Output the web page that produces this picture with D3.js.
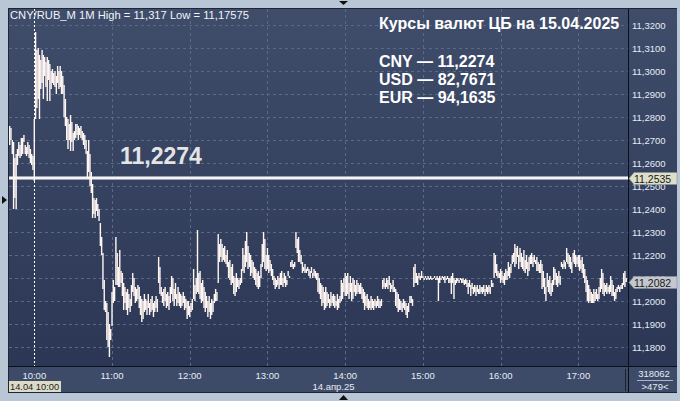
<!DOCTYPE html>
<meta charset="utf-8">
<title>CNY/RUB_M 1M</title>
<style>
body {
  margin: 0;
  background: #b9c6d6;
}
svg {
  display: block;
  font-family: "Liberation Sans", Arial, sans-serif;
}
.grid line {
  stroke: #5b6987;
  stroke-dasharray: 3,3;
}
.tick-label {
  fill: #e6ecf6;
  font-size: 9.5px;
}
</style>
<body>
<script src="https://cdn.jsdelivr.net/npm/d3@7"></script>
<script>

// minutes relative to 10:00 of the first visible 1M bar
var firstMinute = -19;

var highs = [
  11.2760, 11.2750, 11.2700, 11.2690, 11.2620, 11.2640, 11.2660, 11.2690, 11.2680, 11.2710,
  11.2710, 11.2720, 11.2680, 11.2670, 11.2690, 11.2680, 11.2660, 11.2640, 11.2630,
  11.2790,
  11.3170, 11.3090, 11.3100, 11.3070, 11.3050, 11.3090, 11.3070, 11.3060, 11.3040, 11.3060,
  11.3050, 11.3030, 11.3000, 11.3010, 11.2990, 11.3000, 11.2980, 11.3020, 11.3000, 11.3020,
  11.3000, 11.2980, 11.2940, 11.2880, 11.2800, 11.2790, 11.2770, 11.2810, 11.2780, 11.2730,
  11.2740, 11.2770, 11.2770, 11.2760, 11.2750, 11.2760, 11.2740, 11.2730, 11.2720, 11.2700,
  11.2650, 11.2700, 11.2640, 11.2560, 11.2510, 11.2450, 11.2440, 11.2450, 11.2420, 11.2400,
  11.2340, 11.2280, 11.2210, 11.2090, 11.2000, 11.1990, 11.1950, 11.1900, 11.1880, 11.2040,
  11.2090, 11.2060, 11.2280, 11.2210, 11.2150, 11.2220, 11.2130, 11.2120, 11.2080, 11.2060,
  11.2040, 11.2050, 11.2030, 11.2010, 11.2070, 11.2120, 11.2100, 11.2060, 11.2050, 11.2070,
  11.2060, 11.2020, 11.2010, 11.2000, 11.2030, 11.2010, 11.2000, 11.2030, 11.1990, 11.2010,
  11.2020, 11.1990, 11.2000, 11.2020, 11.2010, 11.2190, 11.2150, 11.2060, 11.2040, 11.2050,
  11.2060, 11.2030, 11.2040, 11.2020, 11.2060, 11.2110, 11.2100, 11.2050, 11.2080, 11.2030,
  11.2060, 11.2040, 11.2030, 11.2020, 11.2040, 11.2020, 11.2010, 11.2000, 11.2000, 11.1980,
  11.1990, 11.2010, 11.2140, 11.2070, 11.2100, 11.2310, 11.2120, 11.2130, 11.2080, 11.2090,
  11.2060, 11.2040, 11.2020, 11.2000, 11.2020, 11.1990, 11.2010, 11.2000, 11.2030, 11.2050,
  11.2040, 11.2290, 11.2250, 11.2270, 11.2250, 11.2230, 11.2240, 11.2200, 11.2220, 11.2170,
  11.2180, 11.2150, 11.2160, 11.2110, 11.2100, 11.2120, 11.2100, 11.2090, 11.2100, 11.2140,
  11.2230, 11.2200, 11.2260, 11.2300, 11.2240, 11.2210, 11.2200, 11.2180, 11.2170, 11.2150,
  11.2140, 11.2120, 11.2130, 11.2110, 11.2160, 11.2250, 11.2300, 11.2270, 11.2200, 11.2230,
  11.2200, 11.2180, 11.2160, 11.2140, 11.2110, 11.2100, 11.2090, 11.2110, 11.2100, 11.2120,
  11.2130, 11.2100, 11.2120, 11.2110, 11.2090, 11.2130, 11.2110, 11.2170, 11.2180, 11.2160,
  11.2170, 11.2300, 11.2270, 11.2280, 11.2220, 11.2200, 11.2170, 11.2150, 11.2160, 11.2140,
  11.2150, 11.2140, 11.2130, 11.2150, 11.2120, 11.2140, 11.2130, 11.2120, 11.2120, 11.2100,
  11.2080, 11.2070, 11.2060, 11.2040, 11.2060, 11.2040, 11.2030, 11.2010, 11.2040, 11.2020,
  11.2030, 11.2020, 11.2000, 11.2030, 11.2010, 11.2020, 11.2090, 11.2080, 11.2100, 11.2120,
  11.2110, 11.2120, 11.2080, 11.2110, 11.2080, 11.2100, 11.2090, 11.2070, 11.2090, 11.2080,
  11.2070, 11.2080, 11.2060, 11.2050, 11.2040, 11.2020, 11.2030, 11.2010, 11.2000, 11.2020,
  11.2010, 11.2000, 11.2010, 11.2000, 11.2020, 11.2010, 11.2000, 11.2010, 11.2090, 11.2100,
  11.2080, 11.2100, 11.2090, 11.2110, 11.2080, 11.2070, 11.2090, 11.2060, 11.2050, 11.2040,
  11.2030, 11.2010, 11.2000, 11.1990, 11.2010, 11.2000, 11.1990, 11.1980, 11.1990, 11.2020,
  11.2020, 11.2010, 11.2150, 11.2160, 11.2120, 11.2110, 11.2120, 11.2110, 11.2130, 11.2110,
  11.2100, 11.2110, 11.2100, 11.2110, 11.2100, 11.2110, 11.2100, 11.2100, 11.2110, 11.2100,
  11.2110, 11.2100, 11.2110, 11.2100, 11.2110, 11.2105, 11.2110, 11.2100, 11.2110, 11.2100,
  11.2100, 11.2110, 11.2120, 11.2100, 11.2090, 11.2100, 11.2100, 11.2090, 11.2100, 11.2095,
  11.2100, 11.2090, 11.2095, 11.2090, 11.2080, 11.2090, 11.2070, 11.2080, 11.2060, 11.2070,
  11.2060, 11.2070, 11.2050, 11.2070, 11.2060, 11.2060, 11.2070, 11.2050, 11.2070, 11.2060,
  11.2070, 11.2060, 11.2090, 11.2080, 11.2210, 11.2200, 11.2160, 11.2130, 11.2120, 11.2140,
  11.2130, 11.2110, 11.2120, 11.2140, 11.2130, 11.2170, 11.2150, 11.2160, 11.2200, 11.2210,
  11.2250, 11.2230, 11.2240, 11.2200, 11.2230, 11.2210, 11.2190, 11.2220, 11.2180, 11.2200,
  11.2170, 11.2190, 11.2200, 11.2210, 11.2190, 11.2200, 11.2180, 11.2190, 11.2170, 11.2160,
  11.2180, 11.2160, 11.2130, 11.2100, 11.2060, 11.2120, 11.2090, 11.2110, 11.2080, 11.2090,
  11.2150, 11.2140, 11.2120, 11.2110, 11.2130, 11.2110, 11.2170, 11.2160, 11.2180, 11.2170,
  11.2230, 11.2210, 11.2200, 11.2190, 11.2170, 11.2210, 11.2220, 11.2200, 11.2190, 11.2200,
  11.2200, 11.2180, 11.2190, 11.2160, 11.2140, 11.2110, 11.2090, 11.2070, 11.2050, 11.2040,
  11.2030, 11.2050, 11.2040, 11.2050, 11.2030, 11.2060, 11.2100, 11.2140, 11.2120, 11.2080,
  11.2070, 11.2080, 11.2060, 11.2070, 11.2110, 11.2090, 11.2070, 11.2040, 11.2050, 11.2060,
  11.2070, 11.2060, 11.2070, 11.2080, 11.2120, 11.2130, 11.2100
];

var lows = [
  11.2680, 11.2700, 11.2640, 11.2400, 11.2450, 11.2400, 11.2590, 11.2630, 11.2620, 11.2630,
  11.2640, 11.2690, 11.2640, 11.2630, 11.2640, 11.2620, 11.2600, 11.2590, 11.2570,
  11.2520,
  11.2790, 11.2840, 11.2880, 11.2790, 11.2920, 11.2950, 11.2880, 11.2980, 11.2930, 11.2870,
  11.2960, 11.2870, 11.2920, 11.2950, 11.2940, 11.2930, 11.2900, 11.2950, 11.2920, 11.2930,
  11.2900, 11.2900, 11.2800, 11.2760, 11.2700, 11.2660, 11.2700, 11.2650, 11.2690, 11.2650,
  11.2700, 11.2710, 11.2720, 11.2700, 11.2720, 11.2710, 11.2700, 11.2680, 11.2660, 11.2640,
  11.2540, 11.2560, 11.2500, 11.2470, 11.2360, 11.2380, 11.2360, 11.2390, 11.2370, 11.2350,
  11.2240, 11.2200, 11.2050, 11.1960, 11.1950, 11.1830, 11.1800, 11.1757, 11.1830, 11.1890,
  11.1990, 11.2000, 11.2070, 11.2070, 11.2060, 11.2060, 11.2080, 11.2020, 11.1960, 11.1990,
  11.1960, 11.1940, 11.1970, 11.1950, 11.1980, 11.2040, 11.2020, 11.1990, 11.2000, 11.2010,
  11.1970, 11.1940, 11.1910, 11.1920, 11.1950, 11.1960, 11.1940, 11.1970, 11.1940, 11.1950,
  11.1960, 11.1930, 11.1950, 11.1970, 11.1950, 11.2080, 11.2030, 11.2020, 11.1990, 11.1980,
  11.2000, 11.1970, 11.1980, 11.1960, 11.1990, 11.2030, 11.2000, 11.1980, 11.2010, 11.1980,
  11.1990, 11.1980, 11.1970, 11.1980, 11.1990, 11.1960, 11.1970, 11.1920, 11.1940, 11.1930,
  11.1950, 11.1960, 11.2010, 11.2000, 11.2030, 11.2040, 11.2030, 11.2010, 11.1990, 11.2000,
  11.1970, 11.1950, 11.1970, 11.1930, 11.1950, 11.1920, 11.1940, 11.1950, 11.1990, 11.2000,
  11.2000, 11.2080, 11.2170, 11.2190, 11.2170, 11.2180, 11.2170, 11.2160, 11.2150, 11.2100,
  11.2090, 11.2070, 11.2080, 11.2030, 11.2020, 11.2040, 11.2060, 11.2050, 11.2070, 11.2080,
  11.2130, 11.2120, 11.2150, 11.2170, 11.2140, 11.2150, 11.2110, 11.2120, 11.2100, 11.2090,
  11.2070, 11.2060, 11.2050, 11.2060, 11.2100, 11.2150, 11.2170, 11.2140, 11.2130, 11.2140,
  11.2120, 11.2130, 11.2110, 11.2090, 11.2070, 11.2050, 11.2060, 11.2070, 11.2050, 11.2070,
  11.2070, 11.2060, 11.2080, 11.2060, 11.2070, 11.2110, 11.2100, 11.2150, 11.2150, 11.2140,
  11.2150, 11.2230, 11.2210, 11.2170, 11.2170, 11.2160, 11.2120, 11.2130, 11.2120, 11.2120,
  11.2130, 11.2110, 11.2100, 11.2120, 11.2100, 11.2110, 11.2100, 11.2090, 11.2040, 11.2030,
  11.2010, 11.1980, 11.1990, 11.1960, 11.1970, 11.1980, 11.1990, 11.1970, 11.1980, 11.1990,
  11.1980, 11.1970, 11.1980, 11.1960, 11.1970, 11.1990, 11.2000, 11.2010, 11.2040, 11.2020,
  11.2020, 11.2030, 11.2010, 11.2040, 11.2000, 11.2010, 11.2040, 11.2020, 11.2030, 11.2040,
  11.2030, 11.2030, 11.2010, 11.1990, 11.1960, 11.1980, 11.1970, 11.1960, 11.1970, 11.1960,
  11.1970, 11.1960, 11.1980, 11.1970, 11.1980, 11.1970, 11.1970, 11.1980, 11.2050, 11.2060,
  11.2050, 11.2060, 11.2050, 11.2070, 11.2040, 11.2050, 11.2040, 11.2040, 11.1980, 11.1970,
  11.1950, 11.1960, 11.1960, 11.1950, 11.1970, 11.1960, 11.1940, 11.1926, 11.1950, 11.1990,
  11.1990, 11.1980, 11.2060, 11.2080, 11.2080, 11.2070, 11.2100, 11.2090, 11.2100, 11.2100,
  11.2090, 11.2100, 11.2090, 11.2095, 11.2090, 11.2095, 11.2090, 11.2095, 11.2100, 11.2090,
  11.2090, 11.2000, 11.2080, 11.2090, 11.2100, 11.2090, 11.2080, 11.2090, 11.2095, 11.2080,
  11.2080, 11.2030, 11.2080, 11.2010, 11.2070, 11.2080, 11.2085, 11.2080, 11.2090, 11.2080,
  11.2080, 11.2070, 11.2075, 11.2060, 11.2030, 11.2060, 11.2020, 11.2050, 11.2030, 11.2040,
  11.2020, 11.2040, 11.2030, 11.2030, 11.2040, 11.2030, 11.2040, 11.2020, 11.2040, 11.2030,
  11.2040, 11.2030, 11.2060, 11.2060, 11.2100, 11.2120, 11.2110, 11.2100, 11.2100, 11.2080,
  11.2090, 11.2080, 11.2070, 11.2090, 11.2090, 11.2110, 11.2100, 11.2120, 11.2160, 11.2170,
  11.2150, 11.2160, 11.2190, 11.2140, 11.2170, 11.2150, 11.2140, 11.2130, 11.2120, 11.2140,
  11.2110, 11.2130, 11.2160, 11.2160, 11.2150, 11.2170, 11.2160, 11.2130, 11.2130, 11.2120,
  11.2120, 11.2050, 11.2060, 11.2030, 11.2000, 11.2060, 11.2040, 11.2030, 11.2020, 11.2040,
  11.2070, 11.2090, 11.2070, 11.2060, 11.2080, 11.2070, 11.2150, 11.2140, 11.2150, 11.2140,
  11.2170, 11.2160, 11.2150, 11.2140, 11.2120, 11.2170, 11.2160, 11.2150, 11.2160, 11.2150,
  11.2130, 11.2140, 11.2120, 11.2100, 11.2080, 11.2040, 11.2000, 11.1990, 11.2000, 11.1990,
  11.1990, 11.1990, 11.2000, 11.2010, 11.2000, 11.2010, 11.2040, 11.2050, 11.2030, 11.2020,
  11.2040, 11.2030, 11.2040, 11.2030, 11.2040, 11.2020, 11.2020, 11.2000, 11.2010, 11.2040,
  11.2050, 11.2040, 11.2050, 11.2050, 11.2070, 11.2060, 11.2082
];

var hourMinutes = [0, 60, 120, 180, 240, 300, 360, 420];
var hourLabels = ["10:00", "11:00", "12:00", "13:00", "14:00", "15:00", "16:00", "17:00"];
var priceTicks = [11.18, 11.19, 11.20, 11.21, 11.22, 11.23, 11.24, 11.25, 11.26, 11.27, 11.28, 11.29, 11.30, 11.31, 11.32];

var levelPrice = 11.2535;
var lastPrice = 11.2082;
var cbRates = ["CNY \u2014 11,2274", "USD \u2014 82,7671", "EUR \u2014 94,1635"];

var width = 680,
    height = 401,
    plot = {left: 9, right: 628, top: 9, bottom: 366};

var fmt = function(v) { return d3.format(".4f")(v).replace(".", ","); };

var x = d3.scaleLinear()
    .domain([0, 420])
    .range([34.3, 578.3]);

var y = d3.scaleLinear()
    .domain([11.18, 11.32])
    .range([347, 25]);

var svg = d3.select("body").append("svg")
    .attr("width", width)
    .attr("height", height);

var defs = svg.append("defs");
var grad = defs.append("linearGradient")
    .attr("id", "bg")
    .attr("x1", 0).attr("y1", 0).attr("x2", 0).attr("y2", 1);
grad.append("stop").attr("offset", 0).attr("stop-color", "#3f4c6a");
grad.append("stop").attr("offset", 1).attr("stop-color", "#2b3755");

defs.append("clipPath").attr("id", "clip")
  .append("rect")
    .attr("x", plot.left).attr("y", plot.top)
    .attr("width", plot.right - plot.left).attr("height", plot.bottom - plot.top);

// window frame
svg.append("rect")
    .attr("width", width).attr("height", height)
    .attr("fill", "#b9c6d6");

svg.append("rect")
    .attr("x", 8).attr("y", 8)
    .attr("width", 669).attr("height", 385)
    .attr("fill", "#1e2636");

// plot + price axis background
svg.append("rect")
    .attr("x", plot.left).attr("y", plot.top)
    .attr("width", 668).attr("height", plot.bottom - plot.top)
    .attr("fill", "url(#bg)");

// time axis panel
svg.append("rect")
    .attr("x", plot.left).attr("y", plot.bottom + 1)
    .attr("width", 668).attr("height", 25)
    .attr("fill", "#3e4b68");

svg.append("line")
    .attr("x1", 8).attr("x2", 677)
    .attr("y1", plot.bottom + 0.5).attr("y2", plot.bottom + 0.5)
    .attr("stroke", "#0c0f16");

svg.append("line")
    .attr("x1", plot.right + 0.5).attr("x2", plot.right + 0.5)
    .attr("y1", plot.top).attr("y2", 393)
    .attr("stroke", "#0c0f16");

svg.append("line")
    .attr("x1", 625.5).attr("x2", 625.5)
    .attr("y1", 369).attr("y2", 391)
    .attr("stroke", "#1c2230");

// gridlines
var grid = svg.append("g").attr("class", "grid");

grid.selectAll(".h")
    .data(priceTicks)
  .enter().append("line")
    .attr("x1", plot.left).attr("x2", plot.right)
    .attr("y1", function(d) { return Math.round(y(d)) + 0.5; })
    .attr("y2", function(d) { return Math.round(y(d)) + 0.5; });

grid.selectAll(".v")
    .data(hourMinutes.slice(1))
  .enter().append("line")
    .attr("x1", function(d) { return Math.round(x(d)) + 0.5; })
    .attr("x2", function(d) { return Math.round(x(d)) + 0.5; })
    .attr("y1", plot.top).attr("y2", plot.bottom);

// session start marker
svg.append("line")
    .attr("x1", Math.round(x(0)) + 0.5).attr("x2", Math.round(x(0)) + 0.5)
    .attr("y1", plot.top).attr("y2", plot.bottom)
    .attr("stroke", "#ffffff")
    .attr("stroke-dasharray", "2,2");

// level line
svg.append("line")
    .attr("x1", plot.left).attr("x2", plot.right)
    .attr("y1", y(levelPrice)).attr("y2", y(levelPrice))
    .attr("stroke", "#9aa2b4")
    .attr("stroke-width", 4);
svg.append("line")
    .attr("x1", plot.left).attr("x2", plot.right)
    .attr("y1", y(levelPrice)).attr("y2", y(levelPrice))
    .attr("stroke", "#f4f4f4")
    .attr("stroke-width", 2);

// 1M bars
var bars = d3.range(highs.length).map(function(i) {
  return {m: firstMinute + i, high: highs[i], low: lows[i]};
});

svg.append("g")
    .attr("clip-path", "url(#clip)")
  .selectAll("rect")
    .data(bars)
  .enter().append("rect")
    .attr("x", function(d) { return x(d.m) - 0.7; })
    .attr("y", function(d) { return Math.round(y(d.high)); })
    .attr("width", 1.4)
    .attr("height", function(d) { return Math.max(1, Math.round(y(d.low)) - Math.round(y(d.high))); })
    .attr("fill", "#fff6f2");

// price axis labels
svg.append("g").selectAll("text")
    .data(priceTicks)
  .enter().append("text")
    .attr("class", "tick-label")
    .attr("x", 632)
    .attr("y", function(d) { return y(d) + 3.5; })
    .text(fmt);

// price tags
function tag(price, fill) {
  var cy = Math.round(y(price)) + 0.5;
  svg.append("path")
      .attr("d", "M629," + cy + "L634," + (cy - 6) + "H677V" + (cy + 6) + "H634Z")
      .attr("fill", fill)
      .attr("stroke", "#8a8f98")
      .attr("stroke-width", 0.6);
  svg.append("text")
      .attr("x", 634)
      .attr("y", cy + 4)
      .attr("fill", "#1a1a1a")
      .attr("font-size", "10.5px")
      .text(fmt(price));
}
tag(levelPrice, "#dedfc8");
tag(lastPrice, "#c4c7ce");

// time axis labels
svg.append("g").selectAll("text")
    .data(hourMinutes)
  .enter().append("text")
    .attr("class", "tick-label")
    .attr("x", function(d) { return x(d); })
    .attr("y", 379)
    .attr("text-anchor", "middle")
    .text(function(d, i) { return hourLabels[i]; });

svg.append("rect")
    .attr("x", 9).attr("y", 381)
    .attr("width", 52).attr("height", 11)
    .attr("fill", "#dcdcc6");
svg.append("text")
    .attr("x", 10).attr("y", 390)
    .attr("fill", "#222")
    .attr("font-size", "9.3px")
    .text("14.04 10:00");

svg.append("text")
    .attr("class", "tick-label")
    .attr("x", x(231)).attr("y", 390)
    .attr("text-anchor", "middle")
    .text("14.\u0430\u043f\u0440.25");

svg.append("text")
    .attr("class", "tick-label")
    .attr("x", 654).attr("y", 377)
    .attr("text-anchor", "middle")
    .text("318062");
svg.append("line")
    .attr("x1", 637).attr("x2", 673)
    .attr("y1", 380.5).attr("y2", 380.5)
    .attr("stroke", "#aab4c8");
svg.append("text")
    .attr("class", "tick-label")
    .attr("x", 655).attr("y", 390)
    .attr("text-anchor", "middle")
    .text(">479<");

// header & annotations
svg.append("text")
    .attr("x", 10).attr("y", 18.5)
    .attr("fill", "#f2f4f8")
    .attr("font-size", "11.2px")
    .text("CNY/RUB_M 1M High = 11,317 Low = 11,17575");

svg.append("text")
    .attr("x", 379).attr("y", 28.5)
    .attr("fill", "#ffffff")
    .attr("font-size", "16px")
    .attr("font-weight", "bold")
    .text("\u041a\u0443\u0440\u0441\u044b \u0432\u0430\u043b\u044e\u0442 \u0426\u0411 \u043d\u0430 15.04.2025");

svg.append("g").selectAll("text")
    .data(cbRates)
  .enter().append("text")
    .attr("x", 379)
    .attr("y", function(d, i) { return 67 + i * 18; })
    .attr("fill", "#ffffff")
    .attr("font-size", "16px")
    .attr("font-weight", "bold")
    .text(function(d) { return d; });

svg.append("text")
    .attr("x", 120).attr("y", 163.5)
    .attr("fill", "#e4e4e4")
    .attr("font-size", "23px")
    .attr("font-weight", "bold")
    .text("11,2274");

// small scroll markers on the window frame
svg.append("path").attr("d", "M2,196L7,200L2,204Z").attr("fill", "#111");
svg.append("path").attr("d", "M339,1H348L343.5,5Z").attr("fill", "#111");
svg.append("path").attr("d", "M339,400H348L343.5,395Z").attr("fill", "#111");

</script>
</body>
